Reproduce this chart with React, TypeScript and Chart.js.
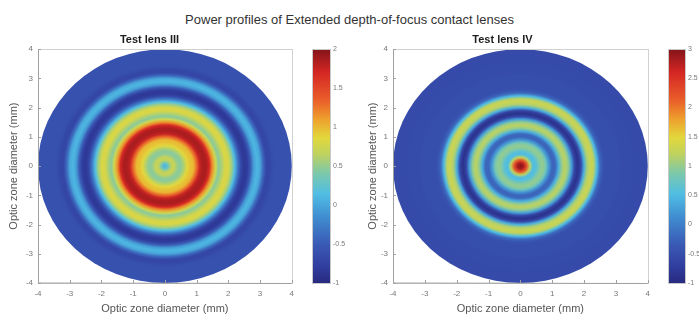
import React, { useEffect, useRef } from "react";
import { Chart, registerables } from "chart.js";
Chart.register(...registerables);

// ---------- data ----------
const RADII = [
  0.0, 0.1, 0.2, 0.3, 0.4, 0.5, 0.6, 0.7, 0.8, 0.9,
  1.0, 1.1, 1.2, 1.3, 1.4, 1.5, 1.6, 1.7, 1.8, 1.9,
  2.0, 2.1, 2.2, 2.3, 2.4, 2.5, 2.6, 2.7, 2.8, 2.9,
  3.0, 3.1, 3.2, 3.3, 3.4, 3.5, 3.6, 3.7, 3.8, 3.9, 4.0,
];
const LENS3_POWER = [
  0.05, 0.3, 0.65, 0.7, 0.5, 0.45, 0.6, 0.85, 0.95, 1.0,
  1.3, 1.75, 1.85, 1.85, 1.7, 1.15, 0.75, 0.45, 0.6, 0.8,
  0.8, 0.55, 0.15, -0.3, -0.7, -0.85, -0.8, -0.5, -0.05, 0.1,
  0.0, -0.4, -0.7, -0.7, -0.62, -0.6, -0.6, -0.6, -0.6, -0.6, -0.6,
];
const LENS4_POWER = [
  3.0, 2.8, 2.2, 1.2, 0.5, 0.6, 0.9, 1.0, 0.8, 0.2,
  -0.25, -0.2, 0.4, 1.0, 1.2, 1.0, 0.3, -0.6, -0.9, -0.6,
  0.4, 1.1, 1.3, 1.2, 0.5, -0.2, -0.45, -0.5, -0.5, -0.5,
  -0.5, -0.5, -0.52, -0.52, -0.53, -0.53, -0.54, -0.54, -0.55, -0.55, -0.55,
];
const AXIS_TICKS = [-4, -3, -2, -1, 0, 1, 2, 3, 4];
const CB3_TICKS = [-1, -0.5, 0, 0.5, 1, 1.5, 2];
const CB4_TICKS = [-1, -0.5, 0, 0.5, 1, 1.5, 2, 2.5, 3];
const CB3_RANGE = [-1, 2];
const CB4_RANGE = [-1, 3];
const MAIN_TITLE = "Power profiles of Extended depth-of-focus contact lenses";
const LENS3_TITLE = "Test lens III";
const LENS4_TITLE = "Test lens IV";
const AXIS_TITLE = "Optic zone diameter (mm)";

// ---------- style ----------
const FONT = "'Liberation Sans', Arial, sans-serif";
const CMAP: [number, number[]][] = [
  [0.0, [40, 42, 128]],
  [0.08, [50, 64, 162]],
  [0.17, [58, 92, 182]],
  [0.28, [64, 140, 208]],
  [0.38, [80, 190, 228]],
  [0.47, [125, 200, 170]],
  [0.55, [190, 210, 95]],
  [0.62, [226, 216, 60]],
  [0.7, [238, 160, 45]],
  [0.78, [234, 95, 42]],
  [0.9, [212, 38, 36]],
  [1.0, [130, 20, 26]],
];

function cmap(t: number): string {
  t = Math.max(0, Math.min(1, t));
  for (let i = 1; i < CMAP.length; i++) {
    const [t1, c1] = CMAP[i];
    const [t0, c0] = CMAP[i - 1];
    if (t <= t1) {
      const f = (t - t0) / (t1 - t0);
      const c = c0.map((v, k) => Math.round(v + (c1[k] - v) * f));
      return `rgb(${c[0]},${c[1]},${c[2]})`;
    }
  }
  const c = CMAP[CMAP.length - 1][1];
  return `rgb(${c[0]},${c[1]},${c[2]})`;
}

const diskPlugin = {
  id: "powerDisk",
  beforeDatasetsDraw(chart: any, _args: any, opts: any) {
    if (!opts || !opts.radii) return;
    const { ctx, scales } = chart;
    const xs = scales.x, ys = scales.y;
    const rMax = opts.radii[opts.radii.length - 1];
    const cx = xs.getPixelForValue(0);
    const cy = ys.getPixelForValue(0);
    const rx = xs.getPixelForValue(rMax) - cx;
    const ry = cy - ys.getPixelForValue(rMax);
    ctx.save();
    ctx.translate(cx, cy);
    ctx.scale(1, ry / rx);
    const g = ctx.createRadialGradient(0, 0, 0, 0, 0, rx);
    opts.radii.forEach((r: number, i: number) => {
      g.addColorStop(r / rMax, cmap((opts.values[i] - opts.min) / (opts.max - opts.min)));
    });
    ctx.fillStyle = g;
    ctx.beginPath();
    ctx.arc(0, 0, rx, 0, Math.PI * 2);
    ctx.fill();
    ctx.restore();
  },
};

const boxPlugin = {
  id: "mBox",
  afterDatasetsDraw(chart: any) {
    const { ctx, chartArea: a, scales } = chart;
    ctx.save();
    ctx.strokeStyle = "#d0d0d0";
    ctx.lineWidth = 1;
    ctx.strokeRect(Math.round(a.left) + 0.5, Math.round(a.top) + 0.5, Math.round(a.right - a.left), Math.round(a.bottom - a.top));
    ctx.strokeStyle = "#a0a0a0";
    ctx.beginPath();
    ctx.moveTo(Math.round(a.left) + 0.5, a.top);
    ctx.lineTo(Math.round(a.left) + 0.5, a.bottom);
    ctx.lineTo(a.right, Math.round(a.bottom) + 0.5);
    AXIS_TICKS.forEach((v) => {
      const px = Math.round(scales.x.getPixelForValue(v)) + 0.5;
      ctx.moveTo(px, a.bottom);
      ctx.lineTo(px, a.bottom - 3);
      const py = Math.round(scales.y.getPixelForValue(v)) + 0.5;
      ctx.moveTo(a.left, py);
      ctx.lineTo(a.left + 3, py);
    });
    ctx.stroke();
    ctx.restore();
  },
};

const colorbarPlugin = {
  id: "colorbar",
  beforeDatasetsDraw(chart: any) {
    const { ctx, chartArea: a } = chart;
    const g = ctx.createLinearGradient(0, a.bottom, 0, a.top);
    CMAP.forEach(([t, c]) => g.addColorStop(t, `rgb(${c[0]},${c[1]},${c[2]})`));
    ctx.save();
    ctx.fillStyle = g;
    ctx.fillRect(a.left, a.top, a.right - a.left, a.bottom - a.top);
    ctx.strokeStyle = "#c8c8c8";
    ctx.strokeRect(Math.round(a.left) + 0.5, Math.round(a.top) + 0.5, Math.round(a.right - a.left), Math.round(a.bottom - a.top));
    ctx.restore();
  },
};

function panelConfig(title: string, values: number[], range: number[], yTitlePad: number, yWidth: number) {
  return {
    type: "scatter",
    data: { datasets: [{ data: [] as any[] }] },
    options: {
      animation: false,
      responsive: false,
      maintainAspectRatio: false,
      events: [],
      layout: { padding: { top: 0, right: 1, bottom: 0, left: 0 } },
      plugins: {
        legend: { display: false },
        tooltip: { enabled: false },
        title: {
          display: true,
          text: title,
          font: { family: FONT, size: 11, weight: "bold" },
          color: "#1e1e1e",
          padding: { top: 5, bottom: 3 },
        },
        powerDisk: { radii: RADII, values, min: range[0], max: range[1] },
      },
      scales: {
        x: {
          type: "linear",
          min: -4,
          max: 4,
          afterBuildTicks: (s: any) => { s.ticks = AXIS_TICKS.map((v) => ({ value: v })); },
          ticks: { font: { family: FONT, size: 8 }, color: "#777", padding: 6, maxRotation: 0, callback: (v: any) => String(v) },
          grid: { display: false, drawTicks: false },
          border: { display: false },
          title: { display: true, text: AXIS_TITLE, font: { family: FONT, size: 11 }, color: "#555", padding: { top: 0, bottom: 4 } },
          afterFit: (s: any) => { s.height = 37; },
        },
        y: {
          type: "linear",
          min: -4,
          max: 4,
          afterBuildTicks: (s: any) => { s.ticks = AXIS_TICKS.map((v) => ({ value: v })); },
          ticks: { font: { family: FONT, size: 8 }, color: "#777", padding: 5, callback: (v: any) => String(v) },
          grid: { display: false, drawTicks: false },
          border: { display: false },
          title: { display: true, text: AXIS_TITLE, font: { family: FONT, size: 11 }, color: "#555", padding: { top: yTitlePad, bottom: 0 } },
          afterFit: (s: any) => { s.width = yWidth; },
        },
      },
    },
    plugins: [diskPlugin, boxPlugin],
  };
}

function colorbarConfig(ticks: number[], range: number[], padLeft: number, scaleW: number) {
  return {
    type: "scatter",
    data: { datasets: [{ data: [] as any[] }] },
    options: {
      animation: false,
      responsive: false,
      maintainAspectRatio: false,
      events: [],
      layout: { padding: { top: 21, right: 0, bottom: 37, left: padLeft } },
      plugins: { legend: { display: false }, tooltip: { enabled: false } },
      scales: {
        x: { display: false, min: 0, max: 1 },
        y: {
          type: "linear",
          position: "right",
          min: range[0],
          max: range[1],
          afterBuildTicks: (s: any) => { s.ticks = ticks.map((v) => ({ value: v })); },
          ticks: { font: { family: FONT, size: 7 }, color: "#777", padding: 3, callback: (v: any) => String(v) },
          grid: { display: false, drawTicks: false },
          border: { display: false },
          afterFit: (s: any) => { s.width = scaleW; },
        },
      },
    },
    plugins: [colorbarPlugin],
  };
}

function ChartBox({ config, left, top, width, height }: any) {
  const ref = useRef<HTMLCanvasElement>(null);
  useEffect(() => {
    const chart = new Chart(ref.current as HTMLCanvasElement, config);
    return () => chart.destroy();
  }, []);
  return (
    <div style={{ position: "absolute", left, top, width, height }}>
      <canvas ref={ref} width={width} height={height} style={{ width, height, display: "block" }} />
    </div>
  );
}

export default function App() {
  return (
    <div style={{ position: "absolute", left: 0, top: 0, width: 699, height: 320, background: "#fff", overflow: "hidden" }}>
      <div
        style={{
          position: "absolute",
          left: 0,
          top: 12,
          width: 699,
          textAlign: "center",
          fontFamily: FONT,
          fontSize: 13,
          lineHeight: "16px",
          color: "#333",
        }}
      >
        {MAIN_TITLE}
      </div>
      <ChartBox config={panelConfig(LENS3_TITLE, LENS3_POWER, CB3_RANGE, 7, 38)} left={0} top={28} width={300} height={292} />
      <ChartBox config={colorbarConfig(CB3_TICKS, CB3_RANGE, 7, 20)} left={305} top={28} width={45} height={292} />
      <ChartBox config={panelConfig(LENS4_TITLE, LENS4_POWER, CB4_RANGE, 16, 43)} left={350} top={28} width={306} height={292} />
      <ChartBox config={colorbarConfig(CB4_TICKS, CB4_RANGE, 8, 14)} left={660} top={28} width={39} height={292} />
    </div>
  );
}
